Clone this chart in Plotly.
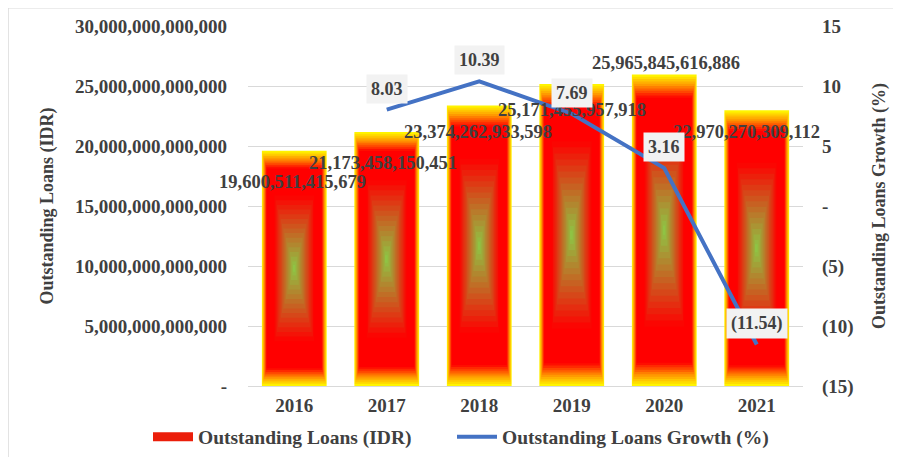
import plotly.graph_objects as go

# ---------------- data ----------------
years = ["2016", "2017", "2018", "2019", "2020", "2021"]
loans_idr = [19600511415679, 21173458150451, 23374262933598,
             25171455957918, 25965845616886, 22970270309112]
growth_pct = [None, 8.03, 10.39, 7.69, 3.16, -11.54]

left_tickvals = [0, 5e12, 10e12, 15e12, 20e12, 25e12, 30e12]
left_ticktext = ["-", "5,000,000,000,000", "10,000,000,000,000", "15,000,000,000,000",
                 "20,000,000,000,000", "25,000,000,000,000", "30,000,000,000,000"]
right_tickvals = [-15, -10, -5, 0, 5, 10, 15]
right_ticktext = ["(15)", "(10)", "(5)", "-", "5", "10", "15"]

# ---------------- styles ----------------
FONT = "Liberation Serif"
TXT = "#404040"
FS = 18
BAR_WIDTH = 0.70
LINE_COLOR = "#4472C4"
bar_label_shift = [(-2, -31), (-4, -31), (-1, -26), (0, -26), (2, 11), (-10, -22)]
line_label_shift = 21

# rectangular "from centre" gradient: centre green -> red -> yellow edge
stops = [(0.0, (140, 200, 70)), (0.62, (255, 0, 0)), (0.85, (255, 0, 0)),
         (0.93, (255, 150, 0)), (1.0, (255, 255, 0))]


def grad_color(t):
    for (t0, c0), (t1, c1) in zip(stops[:-1], stops[1:]):
        if t0 <= t <= t1:
            f = (t - t0) / (t1 - t0) if t1 > t0 else 0
            c = [round(a + (b - a) * f) for a, b in zip(c0, c1)]
            return f"rgb({c[0]},{c[1]},{c[2]})"
    return "rgb(255,255,0)"


levels = [1.0, 0.985, 0.97, 0.955, 0.94, 0.925, 0.91, 0.895, 0.88, 0.865, 0.85,
          0.62, 0.58, 0.54, 0.50, 0.46, 0.42, 0.38, 0.34, 0.30, 0.26, 0.22,
          0.18, 0.14, 0.10, 0.06, 0.03]

fig = go.Figure()
for i, t in enumerate(levels):
    nxt = levels[i + 1] if i + 1 < len(levels) else 0.0
    col = grad_color((t + nxt) / 2)
    fig.add_trace(go.Bar(
        x=years, y=[v * t for v in loans_idr], base=[v * (1 - t) / 2 for v in loans_idr],
        width=BAR_WIDTH * t, marker=dict(color=col, line=dict(width=0)),
        name="Outstanding Loans (IDR)", showlegend=False,
        hoverinfo="skip", yaxis="y"))

# legend entry for the gradient bars (wide swatch like the original)
fig.add_trace(go.Scatter(
    x=[None], y=[None], mode="lines", name="Outstanding Loans (IDR)",
    line=dict(color="rgb(235,30,10)", width=9), legend="legend", hoverinfo="skip"))

fig.add_trace(go.Scatter(
    x=years, y=growth_pct, mode="lines", name="Outstanding Loans Growth (%)",
    line=dict(color=LINE_COLOR, width=4), yaxis="y2", legend="legend2",
    connectgaps=False, hoverinfo="skip"))

annotations = []
for i, (v, (dx, dy)) in enumerate(zip(loans_idr, bar_label_shift)):
    annotations.append(dict(x=i, y=v, xref="x", yref="y", text=f"{v:,}", showarrow=False,
                            xshift=dx, yshift=dy, borderpad=0,
                            font=dict(family=FONT, size=18.5, color=TXT, weight="bold")))
for i, g in enumerate(growth_pct):
    if g is None:
        continue
    txt = f"({abs(g):.2f})" if g < 0 else f"{g:.2f}"
    annotations.append(dict(x=i, y=g, xref="x", yref="y2", text=txt, showarrow=False,
                            yshift=line_label_shift, bgcolor="#f2f2f2", borderpad=4,
                            font=dict(family=FONT, size=FS, color=TXT, weight="bold")))

fig.update_layout(
    width=893, height=449,
    margin=dict(l=240, r=98, t=18, b=71, autoexpand=False),
    paper_bgcolor="white", plot_bgcolor="white",
    barmode="overlay",
    font=dict(family=FONT, size=FS, color=TXT, weight="bold"),
    xaxis=dict(type="category", range=[-0.5, 5.5], showgrid=False, showline=True,
               linecolor="#d9d9d9", linewidth=1, ticks="", tickfont=dict(size=19),
               ticklabelstandoff=2, automargin=False),
    yaxis=dict(range=[0, 30e12], tickvals=left_tickvals, ticktext=left_ticktext,
               showgrid=True, gridcolor="#d9d9d9", gridwidth=1, zeroline=False,
               tickfont=dict(size=19), ticklabelstandoff=20, automargin=False,
               title=dict(text="Outstanding Loans (IDR)", font=dict(size=FS), standoff=16)),
    yaxis2=dict(range=[-15, 15], tickvals=right_tickvals, ticktext=right_ticktext,
                overlaying="y", side="right", showgrid=False, zeroline=False,
                tickfont=dict(size=19), ticklabelstandoff=18, automargin=False,
                title=dict(text="Outstanding Loans Growth (%)", font=dict(size=FS), standoff=19)),
    legend=dict(orientation="h", x=(140 - 240) / 555, xanchor="left", y=-0.142, yanchor="middle",
                font=dict(size=19.5, color=TXT), itemwidth=40, bgcolor="rgba(0,0,0,0)"),
    legend2=dict(orientation="h", x=(444 - 240) / 555, xanchor="left", y=-0.142, yanchor="middle",
                 font=dict(size=19.5, color=TXT), itemwidth=40, bgcolor="rgba(0,0,0,0)"),
    annotations=annotations,
    shapes=[dict(type="rect", xref="paper", yref="paper", x0=-0.432, x1=1.3, y0=-0.3, y1=1.05,
                 line=dict(color="#d9d9d9", width=1), fillcolor="rgba(0,0,0,0)", layer="below")],
)

fig.write_html("out.html")
